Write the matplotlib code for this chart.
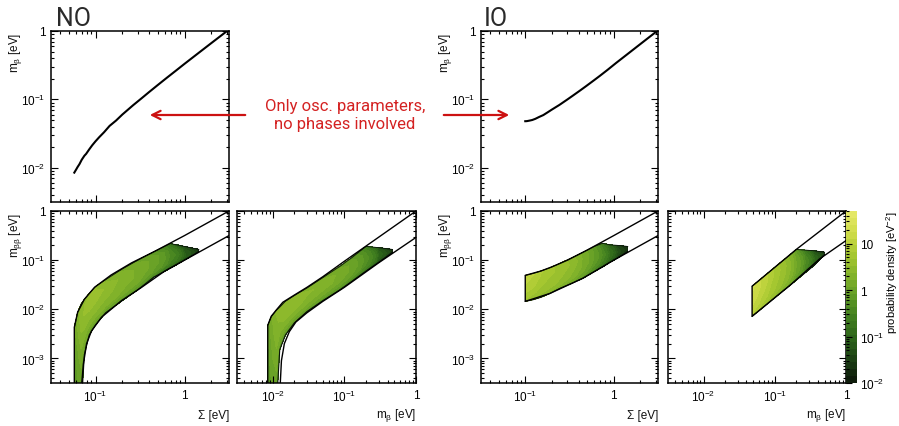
import numpy as np
import matplotlib
matplotlib.use("Agg")
import matplotlib.pyplot as plt
from matplotlib.colors import LinearSegmentedColormap, LogNorm
from matplotlib.patches import FancyArrowPatch
from matplotlib.ticker import LogLocator, FuncFormatter, NullFormatter

plt.rcParams['font.family'] = ['Liberation Sans', 'DejaVu Sans']
plt.rcParams['mathtext.fontset'] = 'custom'
plt.rcParams['mathtext.rm'] = 'Liberation Sans'
plt.rcParams['mathtext.it'] = 'Liberation Sans:italic'
plt.rcParams['mathtext.default'] = 'regular'

W, H = 899, 427

# ---- top row: m_beta as a function of Sigma (oscillation parameters only)
no_sum_top = [0.0578, 0.059, 0.0605, 0.063, 0.066, 0.070, 0.075, 0.0785, 0.085, 0.092, 0.1,
              0.11, 0.125, 0.144, 0.17, 0.2, 0.264, 0.33, 0.4, 0.5, 0.63, 0.8, 1.0, 1.5, 2.0, 3.16]
no_mb_top = [0.0085, 0.0089, 0.0094, 0.0103, 0.0113, 0.0131, 0.0150, 0.0160, 0.0186, 0.0214, 0.0244,
             0.0280, 0.0332, 0.041, 0.049, 0.060, 0.082, 0.104, 0.128, 0.162, 0.206, 0.263, 0.331,
             0.498, 0.665, 1.05]
io_sum_top = [0.1, 0.102, 0.106, 0.112, 0.12, 0.13, 0.144, 0.16, 0.18, 0.2, 0.243, 0.3, 0.35,
              0.42, 0.486, 0.6, 0.7, 0.85, 1.06, 1.4, 2.0, 2.6, 3.16]
io_mb_top = [0.048, 0.048, 0.0483, 0.049, 0.050, 0.052, 0.0555, 0.059, 0.065, 0.071, 0.083, 0.100,
             0.115, 0.136, 0.156, 0.191, 0.222, 0.27, 0.34, 0.45, 0.645, 0.84, 1.02]

# ---- bottom row: probability bands, edges at x knots and density across the band
frac = [0.0, 0.25, 0.5, 0.75, 1.0]

# NO, m_bb vs Sigma
no_s_x = [0.058, 0.063, 0.069, 0.075, 0.085, 0.1, 0.13, 0.2, 0.3, 0.45, 0.69, 1.0, 1.45]
no_s_lo = [1e-4, 1e-4, 1e-4, 1.2e-3, 3.0e-3, 4.8e-3, 8.5e-3, 0.015, 0.025, 0.045, 0.068, 0.10, 0.15]
no_s_hi = [0.0043, 0.0087, 0.013, 0.016, 0.021, 0.029, 0.040, 0.066, 0.10, 0.148, 0.218, 0.19, 0.165]
no_s_dens = [[0.3, 0.5, 0.6, 0.8, 1.0],
             [0.4, 0.8, 1.0, 1.5, 2.0],
             [0.5, 1.0, 1.5, 2.5, 3.0],
             [0.5, 1.5, 2.5, 3.5, 3.0],
             [0.6, 1.8, 3.0, 4.0, 3.0],
             [0.6, 2.0, 3.0, 4.0, 3.0],
             [0.6, 2.0, 2.5, 3.0, 2.0],
             [0.5, 1.5, 2.0, 2.0, 1.5],
             [0.4, 1.2, 1.5, 1.5, 1.0],
             [0.3, 0.8, 1.0, 1.0, 0.6],
             [0.1, 0.3, 0.4, 0.3, 0.1],
             [0.04, 0.08, 0.08, 0.06, 0.03],
             [0.015, 0.015, 0.015, 0.015, 0.015]]
no_s_env_hi_x = [0.0578, 0.0578, 0.063, 0.075, 0.0975, 0.15, 0.254, 0.466, 1.0, 3.16]
no_s_env_hi_y = [3e-4, 0.0043, 0.0087, 0.016, 0.028, 0.050, 0.088, 0.152, 0.316, 1.0]
no_s_env_lo_x = [0.070, 0.073, 0.0795, 0.090, 0.117, 0.196, 0.33, 0.60, 1.0, 3.16]
no_s_env_lo_y = [3e-4, 7.6e-4, 0.0020, 0.0036, 0.0069, 0.015, 0.028, 0.060, 0.100, 0.316]

# NO, m_bb vs m_beta
no_b_x = [0.0085, 0.0095, 0.0112, 0.0125, 0.015, 0.02, 0.03, 0.05, 0.087, 0.13, 0.2, 0.3, 0.47]
no_b_lo = [1e-4, 1e-4, 1e-4, 1.5e-3, 3e-3, 5.3e-3, 9e-3, 0.015, 0.025, 0.038, 0.06, 0.09, 0.145]
no_b_hi = [0.0047, 0.0070, 0.0095, 0.011, 0.0145, 0.019, 0.027, 0.044, 0.075, 0.115, 0.19, 0.18, 0.165]
no_b_dens = [[0.3, 0.5, 0.6, 0.7, 0.8],
             [0.4, 0.8, 1.0, 1.2, 1.5],
             [0.5, 1.0, 1.5, 2.0, 2.5],
             [0.5, 1.2, 2.0, 2.5, 3.0],
             [0.5, 1.5, 2.5, 3.0, 3.0],
             [0.6, 1.5, 2.5, 3.0, 2.5],
             [0.6, 1.5, 2.0, 2.5, 2.0],
             [0.5, 1.2, 1.8, 2.0, 1.5],
             [0.4, 1.0, 1.5, 1.5, 1.0],
             [0.3, 0.8, 1.0, 1.0, 0.7],
             [0.15, 0.4, 0.5, 0.4, 0.2],
             [0.04, 0.08, 0.1, 0.08, 0.04],
             [0.015, 0.015, 0.015, 0.015, 0.015]]
no_b_env_hi_x = [0.0085, 0.0085, 0.0095, 0.0112, 0.0138, 0.02, 0.03, 0.05, 0.1, 1.0]
no_b_env_hi_y = [3e-4, 0.0047, 0.0072, 0.0097, 0.0139, 0.0195, 0.028, 0.046, 0.095, 1.0]
no_b_env_lo_x = [0.0127, 0.0132, 0.0145, 0.017, 0.021, 0.03, 0.05, 0.1, 0.3, 1.0]
no_b_env_lo_y = [3e-4, 9e-4, 2e-3, 3.5e-3, 5.5e-3, 8.5e-3, 0.0145, 0.028, 0.088, 0.29]

# IO, m_bb vs Sigma
io_s_x = [0.1, 0.12, 0.15, 0.19, 0.25, 0.34, 0.45, 0.6, 0.75, 0.9, 1.1, 1.44]
io_s_lo = [0.0145, 0.0155, 0.0175, 0.021, 0.027, 0.034, 0.043, 0.058, 0.073, 0.09, 0.11, 0.15]
io_s_hi = [0.049, 0.053, 0.06, 0.07, 0.087, 0.113, 0.145, 0.19, 0.22, 0.205, 0.2, 0.19]
io_s_dens = [[4, 6, 8, 10, 12],
             [3, 5, 7, 8, 10],
             [2.5, 4, 5, 6, 7],
             [2, 3.5, 4, 5, 5],
             [1.5, 3, 3.5, 4, 4],
             [1, 2, 2.5, 3, 2.5],
             [0.6, 1.2, 1.5, 1.5, 1.5],
             [0.3, 0.6, 0.8, 0.8, 0.6],
             [0.15, 0.3, 0.4, 0.3, 0.2],
             [0.07, 0.12, 0.15, 0.12, 0.08],
             [0.03, 0.04, 0.05, 0.04, 0.03],
             [0.015, 0.015, 0.015, 0.015, 0.015]]
io_s_env_x = [3.16, 1.0, 0.5, 0.3, 0.2, 0.15, 0.1, 0.1, 0.19, 0.45, 1.0, 3.16]
io_s_env_y = [1.0, 0.316, 0.16, 0.1, 0.073, 0.06, 0.049, 0.0145, 0.021, 0.043, 0.1, 0.316]

# IO, m_bb vs m_beta
io_b_x = [0.048, 0.065, 0.09, 0.12, 0.16, 0.2, 0.27, 0.36, 0.5]
io_b_lo = [0.0072, 0.0103, 0.0152, 0.0214, 0.030, 0.039, 0.056, 0.079, 0.13]
io_b_hi = [0.0295, 0.0425, 0.063, 0.089, 0.125, 0.165, 0.16, 0.155, 0.145]
io_b_dens = [[8, 12, 15, 18, 20],
             [5, 8, 10, 12, 12],
             [3, 5, 6, 7, 7],
             [2, 3.5, 4, 4.5, 4],
             [1.2, 2, 2.5, 2.5, 2],
             [0.6, 1.0, 1.2, 1.0, 0.6],
             [0.2, 0.35, 0.4, 0.3, 0.15],
             [0.06, 0.09, 0.1, 0.07, 0.04],
             [0.015, 0.015, 0.015, 0.015, 0.015]]
io_b_env_x = [1.0, 0.2, 0.048, 0.048, 0.16, 0.43, 1.0]
io_b_env_y = [1.0, 0.165, 0.0295, 0.0072, 0.030, 0.107, 0.25]

# colour scale
cmap = LinearSegmentedColormap.from_list(
    "dens", ["#0b160a", "#1b3d13", "#2b6119", "#3f7d1f", "#5e9a25",
             "#83b32a", "#a8c830", "#cfdc48", "#e8ea6c"])
norm = LogNorm(vmin=0.01, vmax=50)
levels = np.logspace(-2, np.log10(50), 26)


def rect(l, t, r, b):
    return [l / W, 1 - b / H, (r - l) / W, (b - t) / H]


def log_fmt(v, pos):
    e = int(round(np.log10(v)))
    if e == 0:
        return "1"
    if e == 1:
        return "10"
    return r"$10^{%d}$" % e


def style(ax, xlim, ylim, xlabels=True, ylabels=True):
    ax.set_xscale("log")
    ax.set_yscale("log")
    ax.set_xlim(*xlim)
    ax.set_ylim(*ylim)
    for axis in (ax.xaxis, ax.yaxis):
        axis.set_major_locator(LogLocator(base=10, numticks=20))
        axis.set_minor_locator(LogLocator(base=10, subs=np.arange(2, 10), numticks=20))
        axis.set_major_formatter(FuncFormatter(log_fmt))
        axis.set_minor_formatter(NullFormatter())
    ax.tick_params(which="both", direction="in", top=True, right=True,
                   labelsize=8.5, width=0.8)
    ax.tick_params(which="major", length=5, pad=4)
    ax.tick_params(which="minor", length=2.5)
    ax.tick_params(labelbottom=xlabels, labelleft=ylabels)
    for s in ax.spines.values():
        s.set_linewidth(1.1)


def band(ax, xk, lo, hi, dens):
    xk, lo, hi = np.asarray(xk), np.asarray(lo), np.asarray(hi)
    f = np.asarray(frac)
    X = np.repeat(xk[:, None], len(f), axis=1)
    Y = lo[:, None] * (hi / lo)[:, None] ** f[None, :]
    cs = ax.contourf(X, Y, np.asarray(dens), levels=levels, cmap=cmap, norm=norm)
    ax.plot(xk, lo, color="#0a140a", lw=0.8)
    ax.plot(xk, hi, color="#0a140a", lw=0.6)
    return cs


fig = plt.figure(figsize=(W / 100, H / 100), dpi=100)

sum_lim = (10 ** -1.5, 10 ** 0.5)
mb_lim = (10 ** -2.5, 1)
top_ylim = (10 ** -2.5, 1)
bot_ylim = (10 ** -3.5, 1)

# top panels
ax = fig.add_axes(rect(51, 32, 229, 203))
ax.plot(no_sum_top, no_mb_top, color="k", lw=1.5)
style(ax, sum_lim, top_ylim, xlabels=False)

ax = fig.add_axes(rect(481, 32, 658, 203))
ax.plot(io_sum_top, io_mb_top, color="k", lw=1.5)
style(ax, sum_lim, top_ylim, xlabels=False)

# bottom panels
ax = fig.add_axes(rect(51, 212, 229, 384))
band(ax, no_s_x, no_s_lo, no_s_hi, no_s_dens)
ax.plot(no_s_env_hi_x, no_s_env_hi_y, color="k", lw=1)
ax.plot(no_s_env_lo_x, no_s_env_lo_y, color="k", lw=1)
style(ax, sum_lim, bot_ylim)

ax = fig.add_axes(rect(237, 212, 416, 384))
band(ax, no_b_x, no_b_lo, no_b_hi, no_b_dens)
ax.plot(no_b_env_hi_x, no_b_env_hi_y, color="k", lw=1)
ax.plot(no_b_env_lo_x, no_b_env_lo_y, color="k", lw=1)
style(ax, mb_lim, bot_ylim, ylabels=False)

ax = fig.add_axes(rect(481, 212, 658, 384))
band(ax, io_s_x, io_s_lo, io_s_hi, io_s_dens)
ax.plot(io_s_env_x, io_s_env_y, color="k", lw=1)
style(ax, sum_lim, bot_ylim)

ax = fig.add_axes(rect(668, 212, 846, 384))
cs = band(ax, io_b_x, io_b_lo, io_b_hi, io_b_dens)
ax.plot(io_b_env_x, io_b_env_y, color="k", lw=1)
style(ax, mb_lim, bot_ylim, ylabels=False)

# colour bar
cax = fig.add_axes(rect(846, 212, 857, 384))
cb = fig.colorbar(cs, cax=cax)
cb.outline.set_visible(False)
cb.set_ticks([0.01, 0.1, 1, 10])
cb.ax.yaxis.set_major_formatter(FuncFormatter(log_fmt))
cb.ax.yaxis.set_minor_locator(LogLocator(base=10, subs=np.arange(2, 10), numticks=20))
cb.ax.yaxis.set_minor_formatter(NullFormatter())
cb.ax.tick_params(which="both", direction="in", left=True, right=False,
                  labelleft=False, labelright=True, labelsize=8.5, width=0.8)
cb.ax.tick_params(which="major", length=4, pad=2)
cb.ax.tick_params(which="minor", length=2)
cb.set_label("probability density [eV$^{-2}$]", loc="top", fontsize=8, labelpad=0)

# axis titles
lab = dict(fontsize=8.5, color="#111111")
fig.text(16 / W, 1 - 33 / H, "m$_{β}$ [eV]", rotation=90, ha="center", va="top", **lab)
fig.text(445 / W, 1 - 33 / H, "m$_{β}$ [eV]", rotation=90, ha="center", va="top", **lab)
fig.text(16 / W, 1 - 213 / H, "m$_{ββ}$ [eV]", rotation=90, ha="center", va="top", **lab)
fig.text(445 / W, 1 - 213 / H, "m$_{ββ}$ [eV]", rotation=90, ha="center", va="top", **lab)
fig.text(229 / W, 1 - 416 / H, "Σ [eV]", ha="right", va="center", **lab)
fig.text(416 / W, 1 - 416 / H, "m$_{β}$ [eV]", ha="right", va="center", **lab)
fig.text(658 / W, 1 - 416 / H, "Σ [eV]", ha="right", va="center", **lab)
fig.text(846 / W, 1 - 416 / H, "m$_{β}$ [eV]", ha="right", va="center", **lab)

# ordering labels
fig.text(56 / W, 1 - 26 / H, "NO", fontsize=18, color="#2a2a2a", va="baseline",
         family=["Roboto", "DejaVu Sans"])
fig.text(484 / W, 1 - 26 / H, "IO", fontsize=18, color="#2a2a2a", va="baseline",
         family=["Roboto", "DejaVu Sans"])

# annotation with arrows
red = "#d42222"
fig.text(345 / W, 1 - 115 / H, "Only osc. parameters,\nno phases involved",
         ha="center", va="center", fontsize=12, color=red, linespacing=1.25,
         family=["Roboto", "DejaVu Sans"])
y_arrow = 1 - 116 / H
fig.add_artist(FancyArrowPatch((248 / W, y_arrow), (147 / W, y_arrow), transform=fig.transFigure,
                               arrowstyle="->", mutation_scale=15, color="#cc1111", lw=1.6))
fig.add_artist(FancyArrowPatch((441 / W, y_arrow), (512 / W, y_arrow), transform=fig.transFigure,
                               arrowstyle="->", mutation_scale=15, color="#cc1111", lw=1.6))

fig.savefig("out.png", dpi=100)
